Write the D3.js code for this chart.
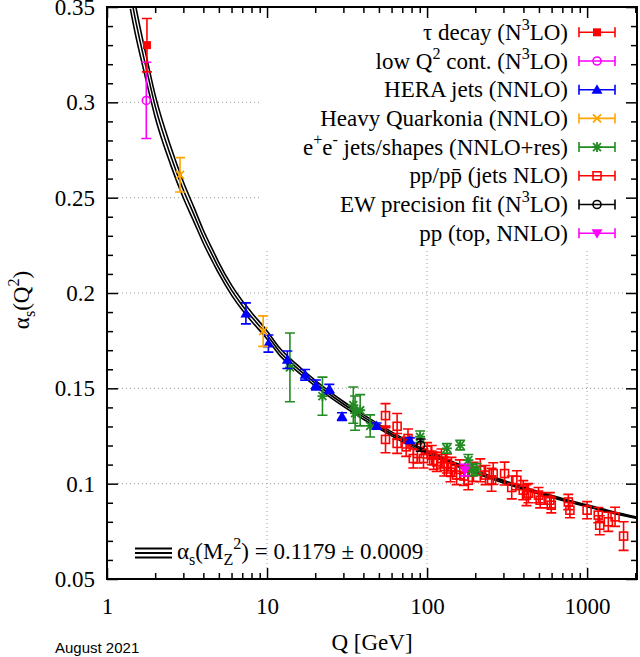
<!DOCTYPE html>
<html>
<head>
<meta charset="utf-8">
<script src="https://cdn.jsdelivr.net/npm/d3@7"></script>
<style>
  body { margin: 0; background: #fff; }
</style>
</head>
<body>
<div id="chart"></div>
<script>
// running alpha_s band (central value and +/- 1 sigma)
var curveQ  = [1.4, 1.5, 1.6, 1.78, 2, 2.5, 3, 3.5, 4, 4.7, 5, 6, 7, 8, 10, 12, 15, 20, 25, 30, 40, 50, 70, 91.19, 120, 150, 200, 300, 400, 500, 700, 1000, 1400, 2050];
var curveMid = [0.357, 0.344, 0.333, 0.316, 0.298, 0.272, 0.254, 0.241, 0.2295, 0.2175, 0.213, 0.2015, 0.1935, 0.1875, 0.178, 0.1692, 0.1615, 0.1527, 0.1465, 0.1418, 0.1350, 0.1300, 0.1230, 0.1179, 0.1136, 0.1102, 0.1062, 0.1011, 0.0976, 0.0952, 0.0917, 0.0884, 0.0852, 0.0821];
var curveHi  = [0.365, 0.3517, 0.3402, 0.3225, 0.3038, 0.2768, 0.2582, 0.2448, 0.2329, 0.2206, 0.2159, 0.2041, 0.1959, 0.1898, 0.1801, 0.1711, 0.1632, 0.1542, 0.1479, 0.1431, 0.1362, 0.1311, 0.1240, 0.1188, 0.1144, 0.1110, 0.1069, 0.1018, 0.0982, 0.0958, 0.0922, 0.0889, 0.0857, 0.0825];
var curveLo  = [0.349, 0.3363, 0.3258, 0.3095, 0.2922, 0.2672, 0.2498, 0.2372, 0.2261, 0.2144, 0.2101, 0.1989, 0.1911, 0.1852, 0.1759, 0.1673, 0.1598, 0.1512, 0.1451, 0.1405, 0.1338, 0.1289, 0.1220, 0.1170, 0.1128, 0.1094, 0.1055, 0.1004, 0.0970, 0.0946, 0.0912, 0.0879, 0.0847, 0.0817];

// measurements: Q [GeV], alpha_s, error
var tauQ = [1.777], tauA = [0.330], tauE = [0.014];
var lowQ = [1.76], lowA = [0.301], lowE = [0.020];
var heraQ = [7.38, 10.2, 13.4, 17.3, 20.2, 24.5, 29.4, 48.4, 78];
var heraA = [0.1893, 0.1735, 0.1650, 0.1571, 0.1518, 0.1497, 0.1352, 0.1303, 0.1228];
var heraE = [0.0055, 0.0045, 0.0046, 0.0028, 0.0026, 0.0024, 0.0020, 0.0015, 0.0012];
var quarkQ = [2.86, 9.46], quarkA = [0.262, 0.180], quarkE = [0.009, 0.008];
var eeQ = [13.9, 22.2, 34.6, 35.5, 38.2, 44.1, 90.5, 133, 161, 181, 190, 204];
var eeA = [0.161, 0.1459, 0.1412, 0.1370, 0.1385, 0.1303, 0.1246, 0.1185, 0.1202, 0.1123, 0.1071, 0.1075];
var eeE = [0.018, 0.010, 0.0095, 0.009, 0.0082, 0.0058, 0.003, 0.0025, 0.0025, 0.003, 0.003, 0.003];
var ppQ = [55, 55, 65, 65, 74, 76, 82, 87, 95, 100, 107, 110, 115, 123, 128, 133, 140, 142, 153, 160, 170, 181, 195, 215, 232, 253, 259, 305, 338, 364, 399, 418, 430, 497, 509, 585, 597, 763, 781, 1000, 1174, 1199, 1357, 1495, 1690];
var ppA = [0.1357, 0.1232, 0.1301, 0.1211, 0.1193, 0.1237, 0.1132, 0.1158, 0.1132, 0.1175, 0.1150, 0.1120, 0.1114, 0.1132, 0.1090, 0.1106, 0.1060, 0.1088, 0.1045, 0.1075, 0.1040, 0.1018, 0.1062, 0.1070, 0.1045, 0.1020, 0.1053, 0.1053, 0.0980, 0.1018, 0.0966, 0.0940, 0.0950, 0.0940, 0.0913, 0.0913, 0.0887, 0.0904, 0.0861, 0.0861, 0.0835, 0.0782, 0.0800, 0.0826, 0.0725];
var ppE = [0.0063, 0.0070, 0.0067, 0.0052, 0.005, 0.005, 0.005, 0.005, 0.005, 0.004, 0.005, 0.0045, 0.005, 0.005, 0.005, 0.005, 0.005, 0.005, 0.005, 0.005, 0.005, 0.005, 0.005, 0.006, 0.005, 0.006, 0.0057, 0.006, 0.006, 0.005, 0.005, 0.0055, 0.005, 0.004, 0.004, 0.004, 0.004, 0.004, 0.004, 0.0045, 0.004, 0.005, 0.005, 0.005, 0.0075];
var ewQ = [91.19], ewA = [0.1202], ewE = [0.0032];
var topQ = [172.5], topA = [0.1071], topE = [0.003];

// axis ticks
var xMajor = [1, 10, 100, 1000];
var xMinor = [2, 3, 4, 5, 6, 7, 8, 9, 20, 30, 40, 50, 60, 70, 80, 90, 200, 300, 400, 500, 600, 700, 800, 900, 2000];
var yMajor = [0.05, 0.1, 0.15, 0.2, 0.25, 0.3, 0.35];
var yMinor = [0.06, 0.07, 0.08, 0.09, 0.11, 0.12, 0.13, 0.14, 0.16, 0.17, 0.18, 0.19, 0.21, 0.22, 0.23, 0.24, 0.26, 0.27, 0.28, 0.29, 0.31, 0.32, 0.33, 0.34];
var yGrid = [0.1, 0.15, 0.2, 0.25, 0.3];
var xGrid = [10, 100, 1000];

// legend labels: [text, "n" | "sup" | "sub"]
var legendLabels = [
  [["τ decay (N", "n"], ["3", "sup"], ["LO)", "n"]],
  [["low Q", "n"], ["2", "sup"], [" cont. (N", "n"], ["3", "sup"], ["LO)", "n"]],
  [["HERA jets (NNLO)", "n"]],
  [["Heavy Quarkonia (NNLO)", "n"]],
  [["e", "n"], ["+", "sup"], ["e", "n"], ["-", "sup"], [" jets/shapes (NNLO+res)", "n"]],
  [["pp/pp\u0304 (jets NLO)", "n"]],
  [["EW precision fit (N", "n"], ["3", "sup"], ["LO)", "n"]],
  [["pp (top, NNLO)", "n"]]
];

var series = [
  { key: "pp",    Q: ppQ,    A: ppA,    E: ppE,    color: "#ff0000", sym: "squareOpen", leg: 5 },
  { key: "ee",    Q: eeQ,    A: eeA,    E: eeE,    color: "#228b22", sym: "star",       leg: 4 },
  { key: "hera",  Q: heraQ,  A: heraA,  E: heraE,  color: "#0000ff", sym: "triUp",      leg: 2 },
  { key: "quark", Q: quarkQ, A: quarkA, E: quarkE, color: "#ffa500", sym: "cross",      leg: 3 },
  { key: "low",   Q: lowQ,   A: lowA,   E: lowE,   color: "#ff00ff", sym: "circleOpen", leg: 1 },
  { key: "tau",   Q: tauQ,   A: tauA,   E: tauE,   color: "#ff0000", sym: "squareFull", leg: 0 },
  { key: "ew",    Q: ewQ,    A: ewA,    E: ewE,    color: "#000000", sym: "circleOpen", leg: 6 },
  { key: "top",   Q: topQ,   A: topA,   E: topE,   color: "#ff00ff", sym: "triDown",    leg: 7 }
];

var width = 640, height = 657;
var x0 = 107, x1 = 637, y0 = 579, y1 = 7;
var serif = "'Liberation Serif', 'Times New Roman', serif";

var svg = d3.select("#chart")
  .append("svg")
  .attr("width", width)
  .attr("height", height)
  .attr("font-family", serif);

var x = d3.scaleLog().domain([1, 2050]).range([x0, x1]);
var y = d3.scaleLinear().domain([0.05, 0.35]).range([y0, y1]);

// grid
var grid = svg.append("g")
  .attr("stroke", "#999")
  .attr("stroke-width", 1)
  .attr("stroke-dasharray", "1,3");
grid.selectAll(".gh").data(yGrid).enter().append("line")
  .attr("x1", x0 + 11).attr("x2", x1)
  .attr("y1", (d) => y(d)).attr("y2", (d) => y(d));
grid.selectAll(".gv").data(xGrid).enter().append("line")
  .attr("x1", (d) => x(d)).attr("x2", (d) => x(d))
  .attr("y1", y0 - 11).attr("y2", y1);

// opaque key box
svg.append("rect")
  .attr("x", 260).attr("y", y1 + 1)
  .attr("width", x1 - 260).attr("height", 248 - y1)
  .attr("fill", "#fff");

// clip for the band
svg.append("clipPath").attr("id", "clip")
  .append("rect").attr("x", x0).attr("y", y1).attr("width", x1 - x0).attr("height", y0 - y1);

// band curves
var line = d3.line().curve(d3.curveMonotoneX);
[curveLo, curveMid, curveHi].forEach(function (arr) {
  svg.append("path")
    .attr("d", line(curveQ.map((q, i) => [x(q), y(arr[i])])))
    .attr("clip-path", "url(#clip)")
    .attr("fill", "none")
    .attr("stroke", "#000")
    .attr("stroke-width", 1.6);
});

var plot = svg.append("g");

function drawSymbol(g, sym, color) {
  if (sym == "squareOpen") {
    g.append("rect").attr("x", -4).attr("y", -4).attr("width", 8).attr("height", 8)
      .attr("fill", "none").attr("stroke", color).attr("stroke-width", 1.6);
  } else if (sym == "squareFull") {
    g.append("rect").attr("x", -4).attr("y", -4).attr("width", 8).attr("height", 8)
      .attr("fill", color);
  } else if (sym == "circleOpen") {
    g.append("circle").attr("r", 4)
      .attr("fill", "none").attr("stroke", color).attr("stroke-width", 1.6);
  } else if (sym == "triUp") {
    g.append("path").attr("d", "M0,-5.5L5.5,4L-5.5,4Z").attr("fill", color);
  } else if (sym == "triDown") {
    g.append("path").attr("d", "M0,5.5L5.5,-4L-5.5,-4Z").attr("fill", color);
  } else if (sym == "cross") {
    g.append("path").attr("d", "M-4,-4L4,4M-4,4L4,-4")
      .attr("stroke", color).attr("stroke-width", 1.8);
  } else if (sym == "star") {
    g.append("path").attr("d", "M-4,-4L4,4M-4,4L4,-4M0,-5L0,5M-5,0L5,0")
      .attr("stroke", color).attr("stroke-width", 1.8);
  }
}

// data points with error bars
series.forEach(function (s) {
  var pts = s.Q.map((q, i) => ({ q: q, a: s.A[i], e: s.E[i] }));
  var g = plot.append("g").attr("class", s.key);
  var pt = g.selectAll("g").data(pts).enter().append("g")
    .attr("transform", (d) => "translate(" + x(d.q) + "," + y(d.a) + ")");
  pt.append("path")
    .attr("d", (d) => {
      var up = y(d.a + d.e) - y(d.a), dn = y(d.a - d.e) - y(d.a);
      return "M0," + up + "L0," + dn + "M-5," + up + "L5," + up + "M-5," + dn + "L5," + dn;
    })
    .attr("fill", "none")
    .attr("stroke", s.color)
    .attr("stroke-width", 1.6);
  pt.each(function () { drawSymbol(d3.select(this), s.sym, s.color); });
});

// rich text helper for sub/superscripts
function richText(t, parts, fs) {
  var cur = 0;
  parts.forEach(function (p) {
    var target = p[1] == "sup" ? -0.42 * fs : p[1] == "sub" ? 0.28 * fs : 0;
    t.append("tspan")
      .attr("dy", target - cur)
      .attr("font-size", p[1] == "n" ? fs : fs * 0.7)
      .text(p[0]);
    cur = target;
  });
}

// legend
var legY0 = 32.3, legStep = 28.7;
series.forEach(function (s) {
  var ly = legY0 + s.leg * legStep;
  var t = svg.append("text")
    .attr("x", 568).attr("y", ly + 7.5)
    .attr("text-anchor", "end")
    .attr("font-size", 23);
  richText(t, legendLabels[s.leg], 23);
  var g = svg.append("g").attr("transform", "translate(597," + ly + ")");
  g.append("path")
    .attr("d", "M-18,0L18,0M-18,-5L-18,5M18,-5L18,5")
    .attr("stroke", s.color).attr("stroke-width", 1.6);
  drawSymbol(g, s.sym, s.color);
});

// band annotation
[-4.5, 0, 4.5].forEach(function (off) {
  svg.append("line")
    .attr("x1", 135).attr("x2", 172)
    .attr("y1", 553 + off).attr("y2", 553 + off)
    .attr("stroke", "#000").attr("stroke-width", 1.8);
});
var ann = svg.append("text").attr("x", 177).attr("y", 559).attr("font-size", 23);
richText(ann, [["α", "n"], ["s", "sub"], ["(M", "n"], ["Z", "sub"], ["2", "sup"], [") = 0.1179 ± 0.0009", "n"]], 23);

// axes
function styleAxis(g) {
  g.attr("font-family", serif).attr("font-size", 23);
  g.select(".domain").remove();
  g.selectAll(".tick line").attr("stroke", "#000").attr("stroke-width", 1.5);
  g.selectAll(".tick text").attr("fill", "#000");
}
svg.append("g").attr("transform", "translate(0," + y0 + ")")
  .call(d3.axisBottom(x).tickValues(xMajor).tickFormat(d3.format("d")).tickSize(-11).tickPadding(19))
  .call(styleAxis);
svg.append("g").attr("transform", "translate(0," + y0 + ")")
  .call(d3.axisBottom(x).tickValues(xMinor).tickFormat("").tickSize(-6))
  .call(styleAxis);
svg.append("g").attr("transform", "translate(0," + y1 + ")")
  .call(d3.axisTop(x).tickValues(xMajor).tickFormat("").tickSize(-11))
  .call(styleAxis);
svg.append("g").attr("transform", "translate(0," + y1 + ")")
  .call(d3.axisTop(x).tickValues(xMinor).tickFormat("").tickSize(-6))
  .call(styleAxis);
svg.append("g").attr("transform", "translate(" + x0 + ",0)")
  .call(d3.axisLeft(y).tickValues(yMajor).tickFormat((d) => String(+d.toFixed(2))).tickSize(-11).tickPadding(12))
  .call(styleAxis);
svg.append("g").attr("transform", "translate(" + x0 + ",0)")
  .call(d3.axisLeft(y).tickValues(yMinor).tickFormat("").tickSize(-6))
  .call(styleAxis);
svg.append("g").attr("transform", "translate(" + x1 + ",0)")
  .call(d3.axisRight(y).tickValues(yMajor).tickFormat("").tickSize(-11))
  .call(styleAxis);
svg.append("g").attr("transform", "translate(" + x1 + ",0)")
  .call(d3.axisRight(y).tickValues(yMinor).tickFormat("").tickSize(-6))
  .call(styleAxis);

// frame
svg.append("rect")
  .attr("x", x0).attr("y", y1)
  .attr("width", x1 - x0).attr("height", y0 - y1)
  .attr("fill", "none").attr("stroke", "#000").attr("stroke-width", 2);

// axis titles
var yl = svg.append("text")
  .attr("transform", "translate(29,300) rotate(-90)")
  .attr("text-anchor", "middle")
  .attr("font-size", 23);
richText(yl, [["α", "n"], ["s", "sub"], ["(Q", "n"], ["2", "sup"], [")", "n"]], 23);

svg.append("text")
  .attr("x", 372).attr("y", 650)
  .attr("text-anchor", "middle")
  .attr("font-size", 23)
  .text("Q [GeV]");

svg.append("text")
  .attr("x", 55).attr("y", 653)
  .attr("font-family", "'Liberation Sans', Arial, sans-serif")
  .attr("font-size", 15)
  .text("August 2021");
</script>
</body>
</html>
